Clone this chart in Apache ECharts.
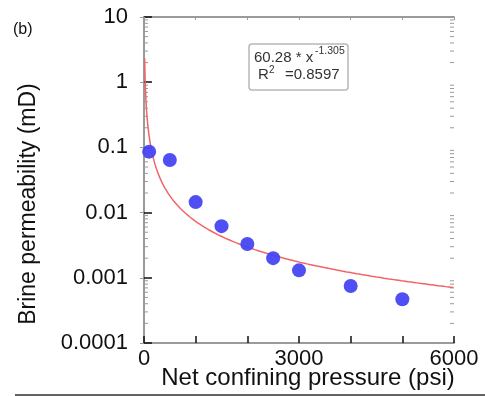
<!DOCTYPE html>
<html>
<head>
<meta charset="utf-8">
<script src="https://cdn.jsdelivr.net/npm/echarts@6/dist/echarts.min.js"></script>
<style>
  html, body { margin: 0; padding: 0; background: #fff; }
  #chart { width: 485px; height: 396px; }
</style>
</head>
<body>
<div id="chart"></div>
<script>
// Measured brine permeability vs. net confining pressure
const pressure = [100, 500, 1000, 1500, 2000, 2500, 3000, 4000, 5000];          // psi
const permeability = [0.086, 0.064, 0.0145, 0.0062, 0.0033, 0.0020, 0.0013, 0.00075, 0.00047]; // mD

// Power-law fit k = a * P^b reported in the legend box
const fitCoef = 60.28;
const fitExp = -1.305;
const fitR2 = '0.8597';
const fitStep = 12;       // psi between curve samples
const fitMax = 6000;

// Axis tick labels
const xTickLabels = ['0', '3000', '6000'];
const yTickLabels = ['10', '1', '0.1', '0.01', '0.001', '0.0001'];
const yDecades = [-4, -3, -2, -1, 0];

const FONT = '"Liberation Sans", Arial, sans-serif';
const AXIS_GREY = '#9a9a9a';

const points = pressure.map((p, i) => [p, permeability[i]]);

const fitCurve = [];
for (let p = fitStep; p <= fitMax; p += fitStep) {
  fitCurve.push([p, fitCoef * Math.pow(p, fitExp)]);
}

// log-scale minor tick values (2..9 within every decade)
const minorVals = [];
yDecades.forEach(d => {
  for (let k = 2; k <= 9; k++) minorVals.push([0, k * Math.pow(10, d)]);
});

const fmtY = v => {
  const s = yTickLabels.find(t => Math.abs(Math.log10(parseFloat(t)) - Math.log10(v)) < 1e-6);
  return s || '';
};
const fmtX = v => (xTickLabels.indexOf(String(v)) >= 0 ? String(v) : '');

const chart = echarts.init(document.getElementById('chart'), null, { renderer: 'canvas' });

chart.setOption({
  animation: false,
  backgroundColor: '#ffffff',
  grid: { left: 144, right: 31, top: 17, bottom: 53, containLabel: false },
  xAxis: [
    {
      type: 'value', min: 0, max: 6000, interval: 1000, position: 'bottom',
      axisLine: { show: true, lineStyle: { color: AXIS_GREY, width: 2 } },
      axisTick: { show: true, inside: true, length: 7, lineStyle: { color: '#111', width: 1.5 } },
      axisLabel: { fontFamily: FONT, fontSize: 22, color: '#111', margin: 5, formatter: fmtX, showMinLabel: true, showMaxLabel: true },
      splitLine: { show: false }
    },
    {
      type: 'value', min: 0, max: 6000, interval: 1000, position: 'top',
      axisLine: { show: true, lineStyle: { color: AXIS_GREY, width: 2 } },
      axisTick: { show: true, inside: true, length: 3, lineStyle: { color: AXIS_GREY, width: 1 } },
      axisLabel: { show: false },
      splitLine: { show: false }
    }
  ],
  yAxis: [
    {
      type: 'log', logBase: 10, min: 0.0001, max: 10, position: 'left',
      axisLine: { show: true, lineStyle: { color: AXIS_GREY, width: 2 } },
      axisTick: { show: true, inside: true, length: 8, lineStyle: { color: '#111', width: 1.5 } },
      axisLabel: { fontFamily: FONT, fontSize: 22, color: '#111', margin: 16, formatter: fmtY },
      splitLine: { show: false }
    },
    {
      type: 'log', logBase: 10, min: 0.0001, max: 10, position: 'right',
      axisLine: { show: true, lineStyle: { color: AXIS_GREY, width: 2 } },
      axisTick: { show: true, inside: true, length: 4, lineStyle: { color: AXIS_GREY, width: 1 } },
      axisLabel: { show: false },
      splitLine: { show: false }
    }
  ],
  series: [
    {
      name: 'minor ticks',
      type: 'custom',
      silent: true,
      clip: false,
      data: minorVals,
      renderItem: (params, api) => {
        const v = api.value(1);
        const l = api.coord([0, v]);
        const r = api.coord([6000, v]);
        const style = { stroke: AXIS_GREY, lineWidth: 1 };
        return {
          type: 'group',
          children: [
            { type: 'line', shape: { x1: l[0], y1: l[1], x2: l[0] + 4, y2: l[1] }, style },
            { type: 'line', shape: { x1: r[0] - 4, y1: r[1], x2: r[0], y2: r[1] }, style }
          ]
        };
      },
      z: 1
    },
    {
      name: 'fit',
      type: 'line',
      data: fitCurve,
      showSymbol: false,
      symbol: 'none',
      clip: true,
      lineStyle: { color: '#f26464', width: 1.5 },
      z: 2
    },
    {
      name: 'brine',
      type: 'scatter',
      data: points,
      symbol: 'circle',
      symbolSize: 14,
      itemStyle: { color: '#4646f2', opacity: 0.95 },
      z: 3
    }
  ],
  graphic: [
    { type: 'text', x: 13, y: 30,
      style: { text: '(b)', font: '16px ' + FONT, fill: '#111', textAlign: 'left', textVerticalAlign: 'middle' } },
    { type: 'text', x: 29, y: 204, rotation: Math.PI / 2,
      style: { text: 'Brine permeability (mD)', font: '23px ' + FONT, fill: '#111', textAlign: 'center', textVerticalAlign: 'middle' } },
    { type: 'text', x: 308, y: 378,
      style: { text: 'Net confining pressure (psi)', font: '24px ' + FONT, fill: '#111', textAlign: 'center', textVerticalAlign: 'middle' } },
    { type: 'rect', shape: { x: 249, y: 44, width: 99, height: 46, r: 3 },
      style: { fill: '#ffffff', stroke: '#b8b8b8', lineWidth: 1.5 }, z: 10 },
    { type: 'text', x: 254, y: 58, z: 11,
      style: { text: fitCoef.toFixed(2) + ' * x', font: '15px ' + FONT, fill: '#333', textAlign: 'left', textVerticalAlign: 'middle' } },
    { type: 'text', x: 315, y: 51, z: 11,
      style: { text: String(fitExp), font: '10.5px ' + FONT, fill: '#333', textAlign: 'left', textVerticalAlign: 'middle' } },
    { type: 'text', x: 258, y: 75, z: 11,
      style: { text: 'R', font: '15px ' + FONT, fill: '#333', textAlign: 'left', textVerticalAlign: 'middle' } },
    { type: 'text', x: 269, y: 70, z: 11,
      style: { text: '2', font: '10px ' + FONT, fill: '#333', textAlign: 'left', textVerticalAlign: 'middle' } },
    { type: 'text', x: 285, y: 75, z: 11,
      style: { text: '=' + fitR2, font: '15px ' + FONT, fill: '#333', textAlign: 'left', textVerticalAlign: 'middle' } },
    { type: 'rect', shape: { x: 15, y: 394, width: 470, height: 2 },
      style: { fill: '#3c3c3c', opacity: 0.8 } }
  ]
});
</script>
</body>
</html>
